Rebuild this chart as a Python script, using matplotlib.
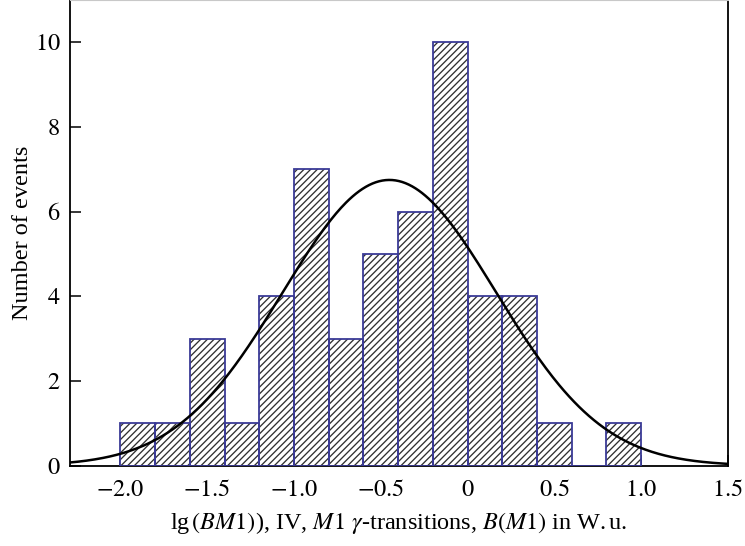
import numpy as np
import matplotlib
matplotlib.use("Agg")
import matplotlib.pyplot as plt

# histogram: left bin edges (width 0.2) and counts
bin_left = [-2.0, -1.8, -1.6, -1.4, -1.2, -1.0, -0.8, -0.6, -0.4, -0.2,
            0.0, 0.2, 0.4, 0.6, 0.8]
counts = [1, 1, 3, 1, 4, 7, 3, 5, 6, 10, 4, 4, 1, 0, 1]
bin_width = 0.2

# gaussian fit
fit_mu = -0.45
fit_sigma = 0.615
fit_amp = 6.75

x_ticks = [-2.0, -1.5, -1.0, -0.5, 0.0, 0.5, 1.0, 1.5]
x_ticklabels = ["$-2.0$", "$-1.5$", "$-1.0$", "$-0.5$", "$0$", "$0.5$", "$1.0$", "$1.5$"]
y_ticks = [0, 2, 4, 6, 8, 10]
y_ticklabels = ["$0$", "$2$", "$4$", "$6$", "$8$", "$10$"]

plt.rcParams['font.family'] = ['Liberation Serif', 'DejaVu Serif']
plt.rcParams['mathtext.fontset'] = 'stix'
plt.rcParams['hatch.linewidth'] = 0.95

fig = plt.figure(figsize=(7.45, 5.46), dpi=100)
ax = fig.add_axes([0.094, 0.147, 0.883, 0.853])

edge_blue = '#3a3a96'
hatch_grey = '#303030'
ax.bar(bin_left, counts, width=bin_width, align='edge', color='white',
       edgecolor=hatch_grey, hatch='/////', linewidth=0, zorder=2)
ax.bar(bin_left, counts, width=bin_width, align='edge', fill=False,
       edgecolor=edge_blue, linewidth=1.3, zorder=3)

xs = np.linspace(-2.3, 1.5, 400)
ax.plot(xs, fit_amp * np.exp(-(xs - fit_mu) ** 2 / (2 * fit_sigma ** 2)),
        color='black', linewidth=1.8, zorder=4)

ax.set_xlim(-2.29, 1.5)
ax.set_ylim(0, 11.0)
ax.set_xticks(x_ticks)
ax.set_xticklabels(x_ticklabels)
ax.set_yticks(y_ticks)
ax.set_yticklabels(y_ticklabels)
ax.tick_params(direction='in', length=8, width=1.1, labelsize=17.5)
ax.tick_params(axis='y', pad=7)
ax.tick_params(axis='x', pad=10)

for side in ['left', 'right', 'bottom']:
    ax.spines[side].set_linewidth(1.3)
ax.spines['top'].set_color('#c8c8c8')

ax.set_xlabel(r'lg$\,(BM1)$), IV, $M1$ $\gamma$-transitions, $B(M1)$ in W.$\,$u.',
              fontsize=17.5, labelpad=7)
ax.set_ylabel('Number of events', fontsize=17.5, labelpad=1)

fig.savefig('out.png', dpi=100)
